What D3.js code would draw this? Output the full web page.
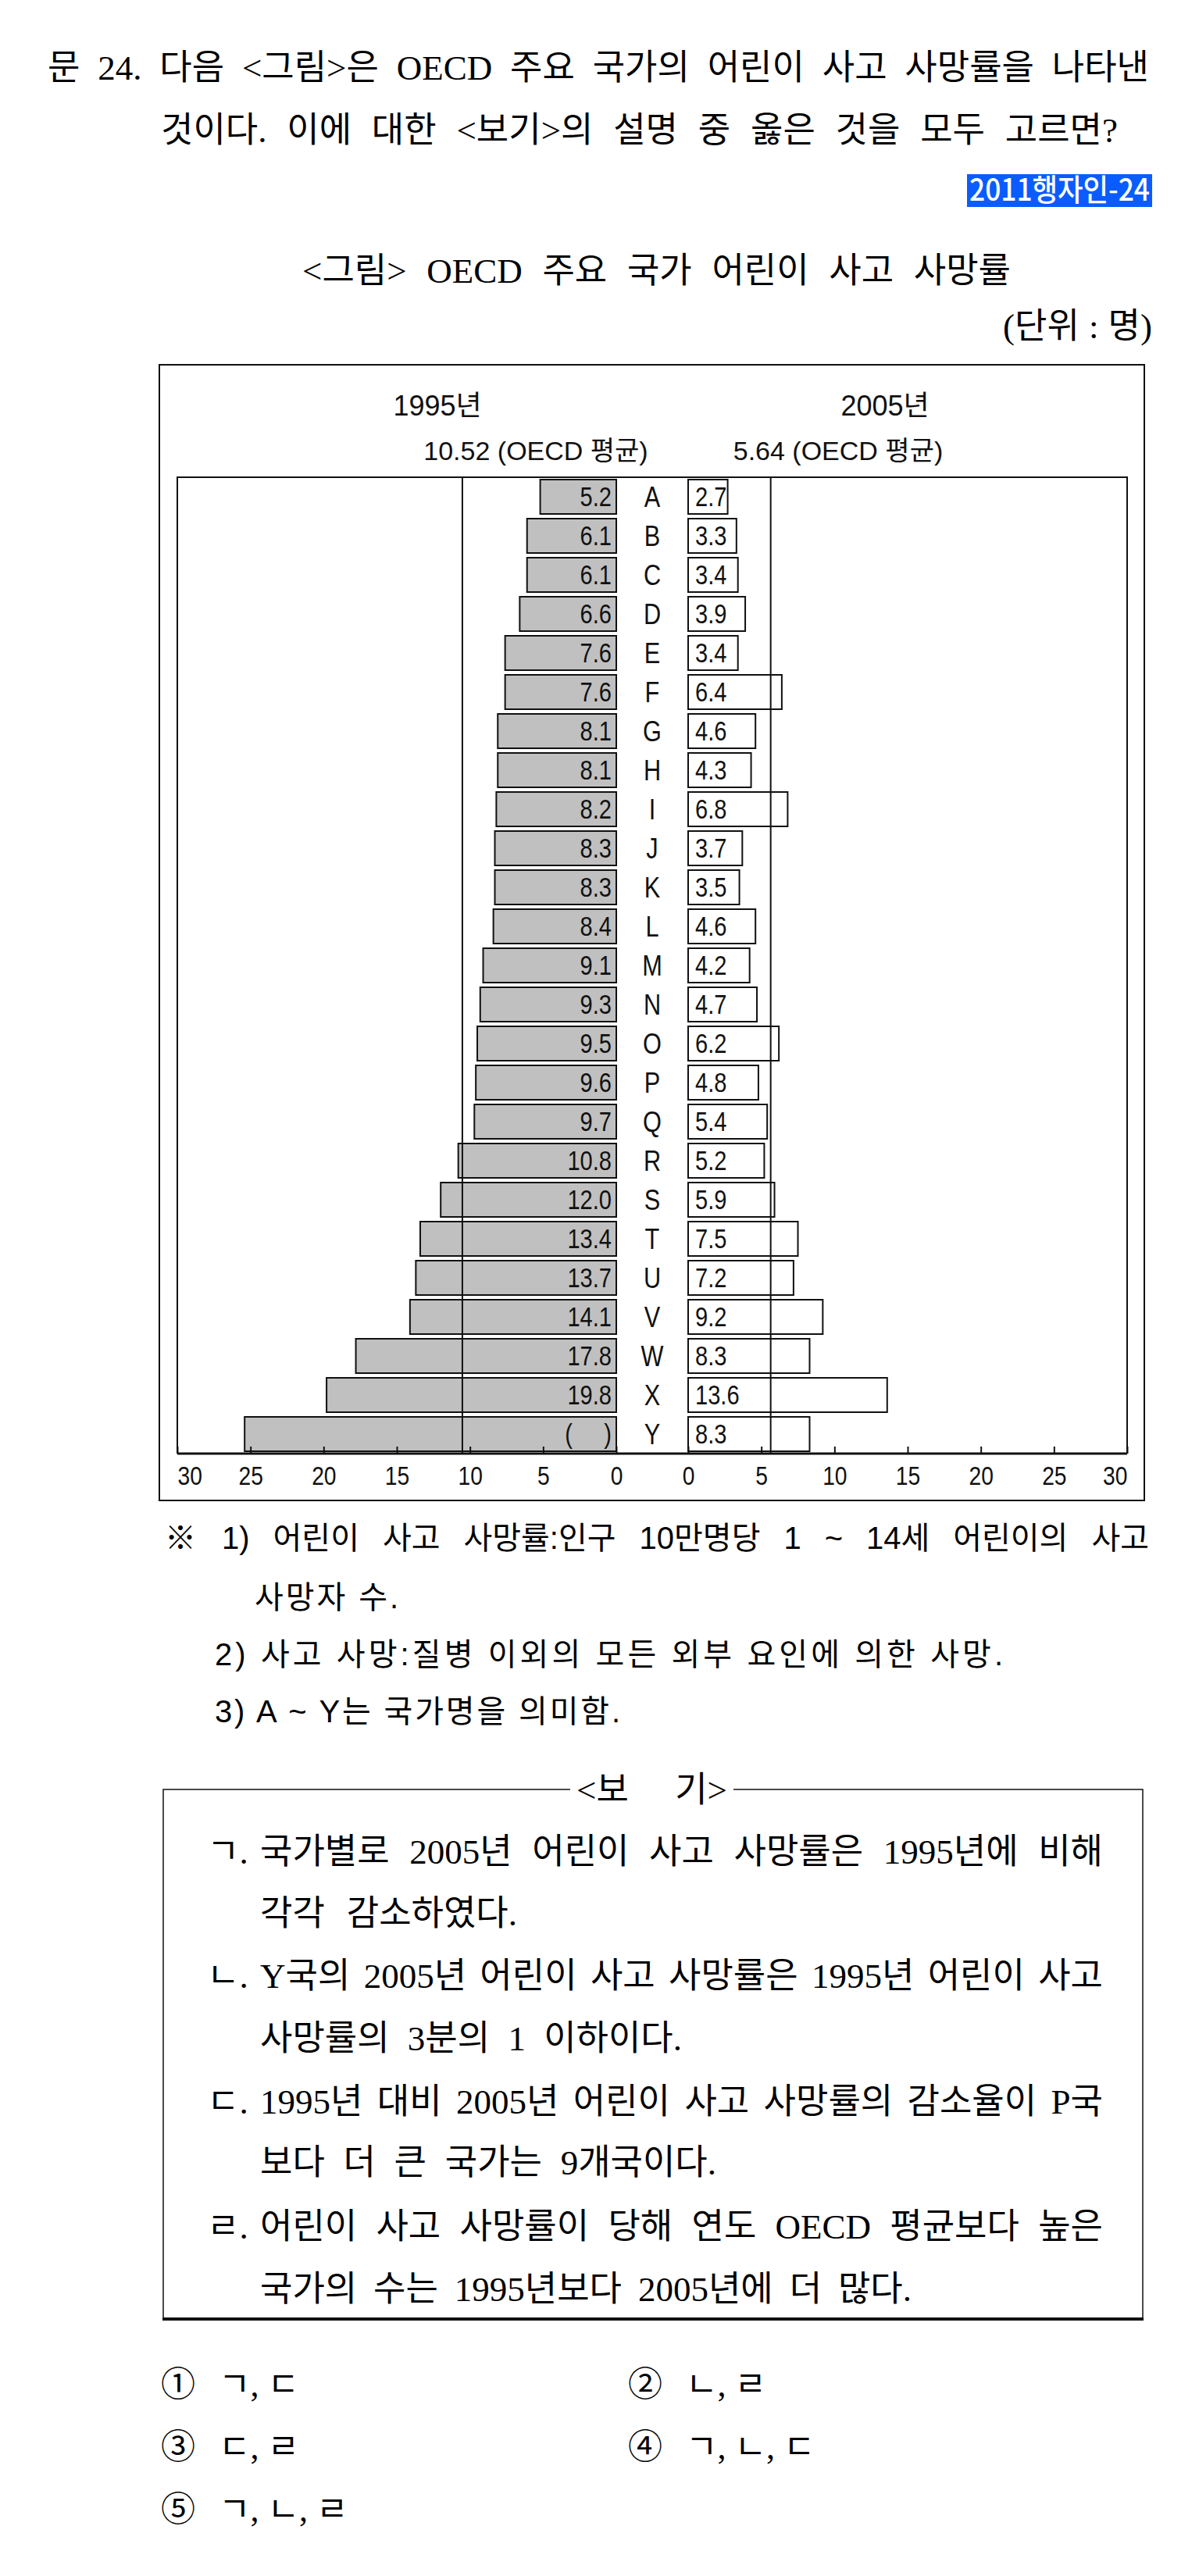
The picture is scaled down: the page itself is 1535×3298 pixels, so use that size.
<!DOCTYPE html>
<html>
<head>
<meta charset="utf-8">
<script src="https://cdn.jsdelivr.net/npm/d3@7"></script>
<style>
  body { margin: 0; background: #fff; }
  svg { display: block; }
</style>
</head>
<body>
<div id="page"></div>
<script>
// chart data
const countries = ['A','B','C','D','E','F','G','H','I','J','K','L','M','N','O','P','Q','R','S','T','U','V','W','X','Y'];
const rate1995 = [5.2, 6.1, 6.1, 6.6, 7.6, 7.6, 8.1, 8.1, 8.2, 8.3, 8.3, 8.4, 9.1, 9.3, 9.5, 9.6, 9.7, 10.8, 12.0, 13.4, 13.7, 14.1, 17.8, 19.8, 25.4];
const rate2005 = [2.7, 3.3, 3.4, 3.9, 3.4, 6.4, 4.6, 4.3, 6.8, 3.7, 3.5, 4.6, 4.2, 4.7, 6.2, 4.8, 5.4, 5.2, 5.9, 7.5, 7.2, 9.2, 8.3, 13.6, 8.3];
const hidden1995 = ['Y'];          // value shown as "( )"
const avg1995 = 10.52;
const avg2005 = 5.64;
const tickValues = [0, 5, 10, 15, 20, 25, 30];

const SERIF = '"Liberation Serif", "Noto Sans CJK KR", serif';
const SANS = '"Liberation Sans", "Noto Sans CJK KR", sans-serif';
const NARROW_X = 0.83;   // condensed look of the chart lettering

const W = 1535, H = 3298;
const svg = d3.select('#page').append('svg')
  .attr('width', W)
  .attr('height', H);

svg.append('rect').attr('width', W).attr('height', H).attr('fill', '#fff');

// stretch a line of text so it runs from x to x + w
function fitTo(t, w, mode) {
  const nat = t.node().getComputedTextLength();
  const s = t.text();
  const spaces = (s.match(/ /g) || []).length;
  if (nat > w) {
    t.attr('textLength', w).attr('lengthAdjust', 'spacingAndGlyphs');
  } else if (mode === 'word' && spaces) {
    t.style('word-spacing', ((w - nat) / spaces) + 'px');
  } else {
    t.attr('textLength', w).attr('lengthAdjust', 'spacing');
  }
}

function put(str, x, y, size, family, x2, mode) {
  const t = svg.append('text')
    .attr('x', x)
    .attr('y', y)
    .attr('font-size', size)
    .attr('font-family', family)
    .attr('fill', '#000')
    .text(str);
  if (x2 != null) fitTo(t, x2 - x, mode);
  return t;
}

// question
put('문 24. 다음 <그림>은 OECD 주요 국가의 어린이 사고 사망률을 나타낸', 61, 102, 45, SERIF, 1471, 'word');
put('것이다. 이에 대한 <보기>의 설명 중 옳은 것을 모두 고르면?', 206, 182, 45, SERIF, 1431, 'word');

// source tag
svg.append('rect')
  .attr('x', 1238).attr('y', 223)
  .attr('width', 237).attr('height', 42)
  .attr('fill', '#0a5cff');
put('2011행자인-24', 1241, 257, 39, '"Noto Sans CJK KR", sans-serif', 1472, 'glyph')
  .attr('fill', '#fff')
  .attr('font-weight', 500);

// figure title
put('<그림> OECD 주요 국가 어린이 사고 사망률', 387, 362, 45, SERIF, 1294, 'word');
put('(단위 : 명)', 1284, 433, 45, SERIF, 1475, 'word');

// chart frame
svg.append('rect')
  .attr('x', 204).attr('y', 467)
  .attr('width', 1261).attr('height', 1454)
  .attr('fill', 'none')
  .attr('stroke', '#111')
  .attr('stroke-width', 2);

const plotTop = 611, plotBottom = 1861;
const xLeft = d3.scaleLinear().domain([0, 30]).range([789, 227]);
const xRight = d3.scaleLinear().domain([0, 30]).range([881, 1443]);
const y = d3.scaleBand()
  .domain(countries)
  .range([plotTop, plotBottom])
  .paddingInner(0.12)
  .paddingOuter(0.06);

const rows = countries.map((c, i) => ({ c, v95: rate1995[i], v05: rate2005[i] }));

// headers
svg.append('text').attr('x', 560).attr('y', 532).attr('text-anchor', 'middle')
  .attr('font-family', SANS).attr('font-size', 36).attr('fill', '#111').text('1995년');
svg.append('text').attr('x', 1133).attr('y', 532).attr('text-anchor', 'middle')
  .attr('font-family', SANS).attr('font-size', 36).attr('fill', '#111').text('2005년');
svg.append('text').attr('x', 686).attr('y', 589).attr('text-anchor', 'middle')
  .attr('font-family', SANS).attr('font-size', 34).attr('fill', '#111').text(avg1995 + ' (OECD 평균)');
svg.append('text').attr('x', 1073).attr('y', 589).attr('text-anchor', 'middle')
  .attr('font-family', SANS).attr('font-size', 34).attr('fill', '#111').text(avg2005 + ' (OECD 평균)');

// plot box
svg.append('path')
  .attr('d', `M${xLeft(30)},${plotBottom}V${plotTop}H${xRight(30)}V${plotBottom}`)
  .attr('fill', 'none')
  .attr('stroke', '#111')
  .attr('stroke-width', 2);

// 1995 bars
svg.selectAll('.bar95')
  .data(rows)
  .enter()
  .append('rect')
  .attr('class', 'bar95')
  .attr('x', d => xLeft(d.v95))
  .attr('y', d => y(d.c))
  .attr('width', d => xLeft(0) - xLeft(d.v95))
  .attr('height', y.bandwidth())
  .attr('fill', '#c0c0c0')
  .attr('stroke', '#111')
  .attr('stroke-width', 2);

// 2005 bars
svg.selectAll('.bar05')
  .data(rows)
  .enter()
  .append('rect')
  .attr('class', 'bar05')
  .attr('x', xRight(0))
  .attr('y', d => y(d.c))
  .attr('width', d => xRight(d.v05) - xRight(0))
  .attr('height', y.bandwidth())
  .attr('fill', '#fff')
  .attr('stroke', '#111')
  .attr('stroke-width', 2);

// value labels
svg.selectAll('.lab95')
  .data(rows)
  .enter()
  .append('text')
  .attr('class', 'lab95')
  .attr('transform', d => `translate(${xLeft(0) - 6},${y(d.c) + y.bandwidth() / 2 + 12}) scale(${NARROW_X},1)`)
  .attr('text-anchor', 'end')
  .attr('font-family', SANS)
  .attr('font-size', 35)
  .attr('fill', '#111')
  .text(d => hidden1995.includes(d.c) ? '(\u00a0\u00a0\u00a0\u00a0\u00a0)' : d.v95.toFixed(1));

svg.selectAll('.lab05')
  .data(rows)
  .enter()
  .append('text')
  .attr('class', 'lab05')
  .attr('transform', d => `translate(${xRight(0) + 9},${y(d.c) + y.bandwidth() / 2 + 12}) scale(${NARROW_X},1)`)
  .attr('font-family', SANS)
  .attr('font-size', 35)
  .attr('fill', '#111')
  .text(d => d.v05.toFixed(1));

// country letters
svg.selectAll('.cname')
  .data(rows)
  .enter()
  .append('text')
  .attr('class', 'cname')
  .attr('transform', d => `translate(${(xLeft(0) + xRight(0)) / 2},${y(d.c) + y.bandwidth() / 2 + 13}) scale(${NARROW_X},1)`)
  .attr('text-anchor', 'middle')
  .attr('font-family', SANS)
  .attr('font-size', 37)
  .attr('fill', '#111')
  .text(d => d.c);

// OECD average lines
[[xLeft, avg1995], [xRight, avg2005]].forEach(([sc, v]) => {
  svg.append('line')
    .attr('x1', sc(v)).attr('x2', sc(v))
    .attr('y1', plotTop).attr('y2', plotBottom)
    .attr('stroke', '#111')
    .attr('stroke-width', 2);
});

// axes
function drawAxis(scale, edgeAnchor) {
  const g = svg.append('g')
    .attr('transform', `translate(0, ${plotBottom})`)
    .call(d3.axisBottom(scale).tickValues(tickValues).tickSize(-9).tickPadding(16));
  g.select('.domain').remove();
  g.selectAll('.tick line').attr('stroke', '#111').attr('stroke-width', 2);
  g.selectAll('.tick text')
    .attr('font-family', SANS)
    .attr('font-size', 34)
    .attr('fill', '#111')
    .attr('transform', `scale(${NARROW_X},1)`)
    .attr('text-anchor', d => d === 30 ? edgeAnchor : 'middle');
}
drawAxis(xLeft, 'start');
drawAxis(xRight, 'end');

svg.append('line')
  .attr('x1', xLeft(30)).attr('x2', xRight(30))
  .attr('y1', plotBottom).attr('y2', plotBottom)
  .attr('stroke', '#111')
  .attr('stroke-width', 3);

// notes
put('※', 211, 1983, 40, SANS);
put('1) 어린이 사고 사망률:인구 10만명당 1 ~ 14세 어린이의 사고', 284, 1983, 40, SANS, 1471, 'word');
put('사망자 수.', 326, 2059, 40, SANS, 510, 'letter');
put('2) 사고 사망:질병 이외의 모든 외부 요인에 의한 사망.', 275, 2132, 40, SANS, 1284, 'letter');
put('3) A ~ Y는 국가명을 의미함.', 275, 2205, 40, SANS, 794, 'letter');

// <보기> box
const bx1 = 209, bx2 = 1463, by1 = 2291, by2 = 2969;
svg.append('path')
  .attr('d', `M730,${by1}H${bx1}V${by2}M939,${by1}H${bx2}V${by2}`)
  .attr('fill', 'none')
  .attr('stroke', '#111')
  .attr('stroke-width', 1.5);
svg.append('line')
  .attr('x1', bx1 - 1).attr('x2', bx2 + 1)
  .attr('y1', by2).attr('y2', by2)
  .attr('stroke', '#111')
  .attr('stroke-width', 4);
put('<보 기>', 738, 2307, 45, SERIF, 931, 'word');

const items = [
  ['ㄱ.', '국가별로 2005년 어린이 사고 사망률은 1995년에 비해', 2386, 1412],
  ['', '각각 감소하였다.', 2465, 662],
  ['ㄴ.', 'Y국의 2005년 어린이 사고 사망률은 1995년 어린이 사고', 2545, 1412],
  ['', '사망률의 3분의 1 이하이다.', 2625, 873],
  ['ㄷ.', '1995년 대비 2005년 어린이 사고 사망률의 감소율이 P국', 2706, 1412],
  ['', '보다 더 큰 국가는 9개국이다.', 2784, 917],
  ['ㄹ.', '어린이 사고 사망률이 당해 연도 OECD 평균보다 높은', 2866, 1412],
  ['', '국가의 수는 1995년보다 2005년에 더 많다.', 2946, 1167]
];
items.forEach(([mark, txt, yy, x2]) => {
  if (mark) put(mark, 265, yy, 45, SERIF);
  put(txt, 333, yy, 45, SERIF, x2, 'word');
});

// answer choices
const choices = [
  ['①', 'ㄱ, ㄷ', 206, 3068],
  ['②', 'ㄴ, ㄹ', 804, 3068],
  ['③', 'ㄷ, ㄹ', 206, 3148],
  ['④', 'ㄱ, ㄴ, ㄷ', 804, 3148],
  ['⑤', 'ㄱ, ㄴ, ㄹ', 206, 3228]
];
choices.forEach(([num, txt, xx, yy]) => {
  put(num, xx, yy, 44, SERIF);
  put(txt, xx + 74, yy, 44, SERIF);
});
</script>
</body>
</html>
